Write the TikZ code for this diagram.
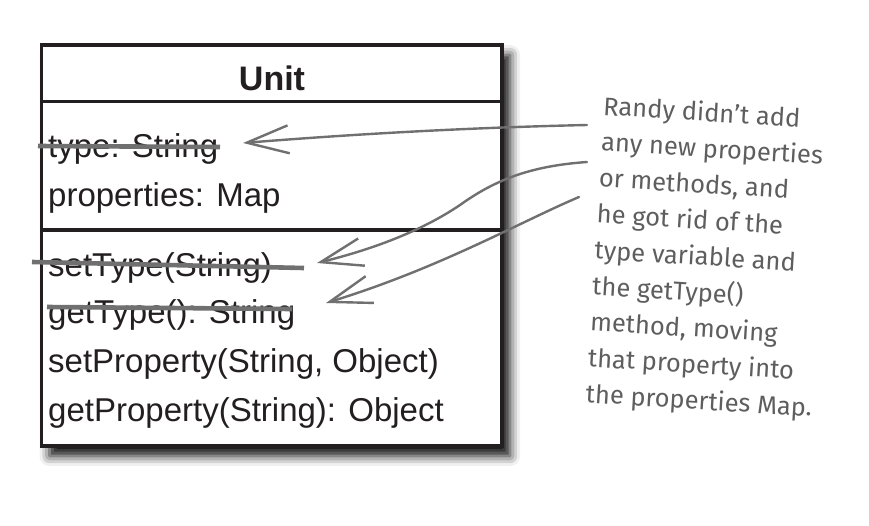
\documentclass[tikz,border=0pt]{standalone}
\usepackage{fontspec}
\setmainfont{Liberation Sans}
\newfontfamily\notefont{Fira Sans}
\usetikzlibrary{arrows.meta,shadows.blur}
\definecolor{ink}{HTML}{231F20}
\definecolor{pen}{HTML}{707070}
\definecolor{notegray}{HTML}{5E5E5E}
\tikzset{
  classbox/.style={draw=ink,line width=3.2pt,fill=white,
    blur shadow={shadow xshift=8pt,shadow yshift=-10pt,shadow blur radius=10pt,shadow opacity=95}},
  member/.style={anchor=base west,inner sep=0pt,text=ink,font=\fontsize{33}{33}\selectfont},
  strike/.style={draw=pen,line width=4.6pt},
  penarrow/.style={draw=pen,line width=2.4pt,line cap=round,line join=round,
    -{Straight Barb[length=42pt,width=28pt,line width=2.4pt]}},
  remark/.style={anchor=north west,inner sep=0pt,align=left,text=notegray,
    font=\notefont\fontsize{25.5}{36}\selectfont,rotate=-3.5}
}
\begin{document}
\begin{tikzpicture}[x=1pt,y=-1pt]
\useasboundingbox (0,0) rectangle (869,525);
\draw[classbox] (41.5,45) rectangle (502,446);
\draw[draw=ink,line width=3.2pt] (41.5,101.5) -- (502,101.5);
\draw[draw=ink,line width=3.2pt] (41.5,230) -- (502,230);

\node[member,anchor=base,font=\bfseries\fontsize{34}{34}\selectfont] (unit) at (272,90) {Unit};

\node[member] (attrtype) at (48,157) {type: String};
\node[member] (attrprops) at (48,206) {properties: Map};

\node[member] (settype) at (48,276) {setType(String)};
\node[member] (gettype) at (48,323) {getType(): String};
\node[member] (setprop) at (48,372) {setProperty(String, Object)};
\node[member] (getprop) at (48,421) {getProperty(String): Object};

\coordinate (typeA) at (38,146);
\coordinate (typeB) at (220,147);
\coordinate (setA) at (32,262);
\coordinate (setB) at (304,268);
\coordinate (getA) at (47,307);
\coordinate (getB) at (292,309);
\draw[strike] (typeA) -- (typeB);
\draw[strike] (setA) -- (setB);
\draw[strike] (getA) -- (getB);

\node[remark] (note) at (604,95) {Randy didn’t add\\any new properties\\or methods, and\\he got rid of the\\type variable and\\the getType()\\method, moving\\that property into\\the properties Map.};

\coordinate (fromtype) at (587,125);
\coordinate (fromset) at (587,162);
\coordinate (fromget) at (579,197);
\coordinate (totype) at (243,143);
\coordinate (toset) at (317,263);
\coordinate (toget) at (326,303);
\draw[penarrow] (fromtype) .. controls (450,128) and (330,136) .. (totype);
\draw[penarrow] (fromset) .. controls (530,166) and (495,180) .. (460,205) .. controls (420,232) and (370,250) .. (toset);
\draw[penarrow] (fromget) .. controls (520,222) and (440,268) .. (toget);
\end{tikzpicture}
\end{document}
